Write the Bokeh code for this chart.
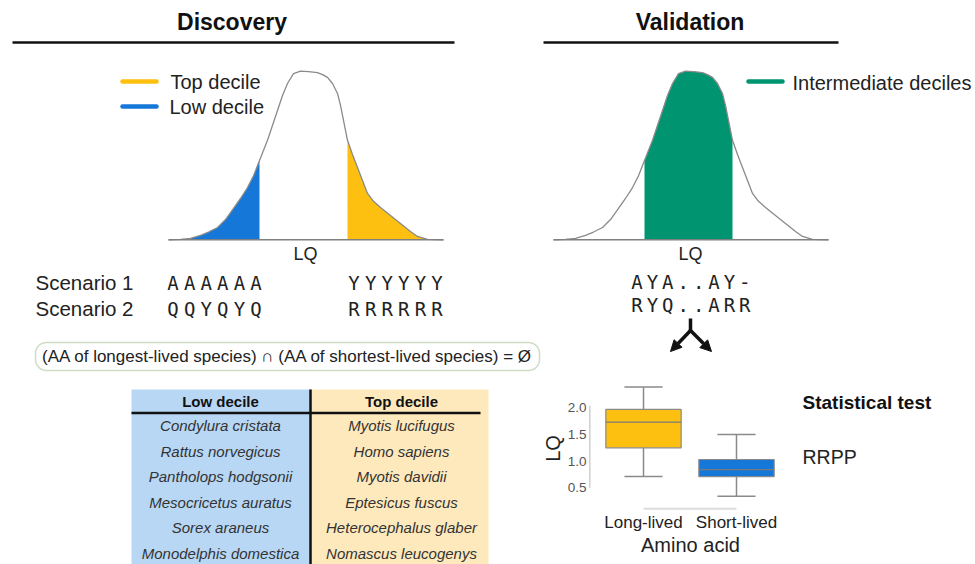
import numpy as np
from bokeh.plotting import figure
from bokeh.models import Range1d, Arrow, NormalHead
from bokeh.core.properties import value
from bokeh.embed import file_html
from bokeh.resources import INLINE

# ---------------- data ----------------
# LQ distribution (shared shape, normalised density)
lq = [0.00, 0.12, 0.22, 0.32, 0.40, 0.49, 0.57, 0.65, 0.72, 0.79,
      0.85, 0.91, 0.99, 1.09, 1.14, 1.19, 1.25, 1.32, 1.40, 1.49,
      1.54, 1.59, 1.64, 1.69, 1.72, 1.75, 1.79, 1.84, 1.89, 1.94,
      1.99, 2.05, 2.12, 2.22, 2.32, 2.42, 2.49, 2.59, 2.75]
density = [0, 0.002, 0.008, 0.026, 0.046, 0.073, 0.12, 0.186, 0.245, 0.31,
           0.38, 0.47, 0.59, 0.767, 0.856, 0.927, 0.986, 1.0, 0.998, 0.992,
           0.98, 0.963, 0.927, 0.868, 0.797, 0.708, 0.59, 0.506, 0.429, 0.352,
           0.275, 0.228, 0.192, 0.144, 0.097, 0.049, 0.02, 0.002, 0]
low_cut = 0.91
top_cut = 1.79

scenario_labels = ["Scenario 1", "Scenario 2"]
low_seqs = ["AAAAAA", "QQYQYQ"]
top_seqs = ["YYYYYY", "RRRRRR"]
val_seqs = ["AYA..AY-", "RYQ..ARR"]

intersection_text = "(AA of longest-lived species) \u2229 (AA of shortest-lived species) = \u00d8"

table_headers = ["Low decile", "Top decile"]
low_species = ["Condylura cristata", "Rattus norvegicus", "Pantholops hodgsonii",
               "Mesocricetus auratus", "Sorex araneus", "Monodelphis domestica"]
top_species = ["Myotis lucifugus", "Homo sapiens", "Myotis davidii",
               "Eptesicus fuscus", "Heterocephalus glaber", "Nomascus leucogenys"]

box_groups = ["Long-lived", "Short-lived"]
whisk_low = [0.71, 0.34]
q1 = [1.25, 0.71]
median = [1.73, 0.84]
q3 = [1.97, 1.03]
whisk_high = [2.39, 1.50]
lq_ticks = [0.5, 1.0, 1.5, 2.0]

# ---------------- styling ----------------
BLUE = "#1578d8"
YELLOW = "#fdc010"
GREEN = "#009470"
CURVE = "#8a8a8a"
TXT = "#222222"
SANS = value("Liberation Sans")
MONO = value("DejaVu Sans Mono")

W, H = 975, 564
X_LO, X_HI, Y_TOP, Y_BOT = 0, W, 0, H

p = figure(width=W, height=H, x_range=Range1d(X_LO, X_HI), y_range=Range1d(Y_BOT, Y_TOP),
           output_backend="svg", toolbar_location=None, min_border=0,
           x_axis_location=None, y_axis_location=None)
p.grid.visible = False
p.outline_line_color = None
p.background_fill_color = "white"
p.border_fill_color = "white"


def xr(origin, scale):
    return Range1d((X_LO - origin) / scale, (X_HI - origin) / scale)


def yr(origin, scale):
    return Range1d((origin - Y_BOT) / scale, (origin - Y_TOP) / scale)


p.extra_x_ranges = {"disc": xr(168, 100), "val": xr(553, 100), "box": xr(643, 93)}
p.extra_y_ranges = {"dens": yr(239.3, 168.6), "lqbox": yr(407.3 + 2.0 * 53.3, 53.3)}

lq_a = np.array(lq)
d_a = np.array(density)

# ---------------- titles ----------------
p.text(x=[231.5, 689.5], y=[21, 21], text=["Discovery", "Validation"], text_font=SANS,
       text_font_size="23px", text_font_style="bold", text_align="center",
       text_baseline="middle", text_color="#111111")
p.segment(x0=[12, 543], y0=[42, 42], x1=[454, 838], y1=[42, 42], line_color="#111111", line_width=2.5)

# ---------------- discovery density ----------------
lo = lq_a <= low_cut
hi = lq_a >= top_cut
p.varea(x=lq_a[lo], y1=0, y2=d_a[lo], fill_color=BLUE, x_range_name="disc", y_range_name="dens")
p.varea(x=lq_a[hi], y1=0, y2=d_a[hi], fill_color=YELLOW, x_range_name="disc", y_range_name="dens")
p.line(lq_a, d_a, line_color=CURVE, line_width=1.3, x_range_name="disc", y_range_name="dens")
p.segment(x0=[lq[0]], y0=[0], x1=[lq[-1]], y1=[0], line_color="#808080", line_width=1.5,
          x_range_name="disc", y_range_name="dens")

# ---------------- validation density ----------------
mid = (lq_a >= low_cut) & (lq_a <= top_cut)
p.varea(x=lq_a[mid], y1=0, y2=d_a[mid], fill_color=GREEN, x_range_name="val", y_range_name="dens")
p.line(lq_a, d_a, line_color=CURVE, line_width=1.3, x_range_name="val", y_range_name="dens")
p.segment(x0=[lq[0]], y0=[0], x1=[lq[-1]], y1=[0], line_color="#808080", line_width=1.5,
          x_range_name="val", y_range_name="dens")

# axis names under curves
p.text(x=[305, 690], y=[253, 253], text=["LQ", "LQ"], text_font=SANS, text_font_size="18px",
       text_align="center", text_baseline="middle", text_color=TXT)

# ---------------- legends ----------------
p.segment(x0=[122, 122, 748], y0=[81, 106, 81], x1=[156, 156, 782], y1=[81, 106, 81],
          line_color=[YELLOW, BLUE, GREEN], line_width=4.5, line_cap="round")
p.text(x=[170, 169, 792], y=[81, 106, 82], text=["Top decile", "Low decile", "Intermediate deciles"],
       text_font=SANS, text_font_size="20px", text_align="left", text_baseline="middle",
       text_color=TXT)

# ---------------- scenarios ----------------
row_y = [282, 308]
p.text(x=[35, 35], y=row_y, text=scenario_labels, text_font=SANS, text_font_size="20.5px",
       text_align="left", text_baseline="middle", text_color=TXT)


def seq_text(seq, x0, pitch, y):
    xs = [x0 + i * pitch for i in range(len(seq))]
    p.text(x=xs, y=[y] * len(seq), text=list(seq), text_font=MONO, text_font_size="19px",
           text_align="center", text_baseline="middle", text_color=TXT)


for s, y in zip(low_seqs, row_y):
    seq_text(s, 172.5, 16.6, y)
for s, y in zip(top_seqs, row_y):
    seq_text(s, 353.5, 16.6, y)
for s, y in zip(val_seqs, [281, 304]):
    seq_text(s, 636.5, 15.4, y)

# ---------------- intersection box ----------------
def rounded_rect(l, r, t, b, rad, n=10):
    xs, ys = [], []
    for cx, cy, a0 in [(r - rad, t + rad, -90), (r - rad, b - rad, 0),
                       (l + rad, b - rad, 90), (l + rad, t + rad, 180)]:
        for a in np.linspace(np.radians(a0), np.radians(a0 + 90), n):
            xs.append(cx + rad * np.cos(a))
            ys.append(cy + rad * np.sin(a))
    return xs, ys


bx, by = rounded_rect(35, 539, 342, 370, 11)
p.patch(bx, by, fill_color="white", line_color="#cfdcc8", line_width=1.5)
p.text(x=[287], y=[356], text=[intersection_text], text_font=SANS, text_font_size="17px",
       text_align="center", text_baseline="middle", text_color=TXT)

# ---------------- table ----------------
p.quad(left=[131, 310], right=[310, 488], top=[389, 389], bottom=[Y_BOT, Y_BOT],
       fill_color=["#b7d7f5", "#fee9bd"], line_color=None)
p.segment(x0=[131], y0=[412.5], x1=[480], y1=[412.5], line_color="#111111", line_width=2.5)
p.segment(x0=[310], y0=[389], x1=[310], y1=[Y_BOT], line_color="#111111", line_width=2.5)
p.text(x=[220, 401], y=[401, 401], text=table_headers, text_font=SANS, text_font_size="15px",
       text_font_style="bold", text_align="center", text_baseline="middle", text_color="#111111")
row_ys = [425 + i * 25.5 for i in range(len(low_species))]
p.text(x=[220] * len(low_species), y=row_ys, text=low_species, text_font=SANS,
       text_font_size="15px", text_font_style="italic", text_align="center",
       text_baseline="middle", text_color="#333333")
p.text(x=[401] * len(top_species), y=row_ys, text=top_species, text_font=SANS,
       text_font_size="15px", text_font_style="italic", text_align="center",
       text_baseline="middle", text_color="#333333")

# ---------------- arrows ----------------
p.segment(x0=[690], y0=[318], x1=[690], y1=[331], line_color="#111111", line_width=3.5)
for xe in [670, 711]:
    p.add_layout(Arrow(x_start=690, y_start=330, x_end=xe, y_end=351, line_width=3.5,
                       line_color="#111111",
                       end=NormalHead(size=11, fill_color="#111111", line_color="#111111",
                                      line_width=1)))

# ---------------- box plot ----------------
idx = np.arange(len(box_groups))
box_colors = [YELLOW, BLUE]
kw = dict(x_range_name="box", y_range_name="lqbox")
p.segment(x0=idx, y0=q3, x1=idx, y1=whisk_high, line_color="#8a8a8a", line_width=1.5, **kw)
p.segment(x0=idx, y0=q1, x1=idx, y1=whisk_low, line_color="#8a8a8a", line_width=1.5, **kw)
p.segment(x0=idx - 0.205, y0=whisk_high, x1=idx + 0.205, y1=whisk_high, line_color="#8a8a8a",
          line_width=1.5, **kw)
p.segment(x0=idx - 0.205, y0=whisk_low, x1=idx + 0.205, y1=whisk_low, line_color="#8a8a8a",
          line_width=1.5, **kw)
p.vbar(x=idx, width=0.81, bottom=q1, top=q3, fill_color=box_colors, line_color="#8a8a8a",
       line_width=1.2, **kw)
p.segment(x0=idx - 0.405, y0=median, x1=idx + 0.405, y1=median, line_color="#7a7a7a",
          line_width=1.2, **kw)

# y axis of box plot
p.segment(x0=[589.3], y0=[lq_ticks[0]], x1=[589.3], y1=[lq_ticks[-1] + 0.04],
          line_color="#cfcfcf", line_width=1.5, y_range_name="lqbox")
p.text(x=[586] * len(lq_ticks), y=lq_ticks, text=[f"{t:.1f}" for t in lq_ticks], text_font=SANS,
       text_font_size="13.5px", text_align="right", text_baseline="middle", text_color="#555555",
       y_range_name="lqbox")
p.text(x=[552], y=[448], text=["LQ"], angle=np.pi / 2, text_font=SANS, text_font_size="20px",
       text_align="center", text_baseline="middle", text_color=TXT)

# x axis of box plot
p.segment(x0=[idx[0]], y0=[508.3], x1=[idx[-1]], y1=[508.3], line_color="#dcdcdc", line_width=2,
          x_range_name="box")
p.text(x=idx, y=[522] * len(box_groups), text=box_groups, text_font=SANS, text_font_size="17px",
       text_align="center", text_baseline="middle", text_color=TXT, x_range_name="box")
p.text(x=[690], y=[544], text=["Amino acid"], text_font=SANS, text_font_size="20px",
       text_align="center", text_baseline="middle", text_color=TXT)

# statistical test
p.text(x=[802], y=[402], text=["Statistical test"], text_font=SANS, text_font_size="19px",
       text_font_style="bold", text_align="left", text_baseline="middle", text_color="#111111")
p.text(x=[802], y=[456], text=["RRPP"], text_font=SANS, text_font_size="19.5px",
       text_align="left", text_baseline="middle", text_color=TXT)

open("out.html", "w").write(file_html(p, INLINE))
